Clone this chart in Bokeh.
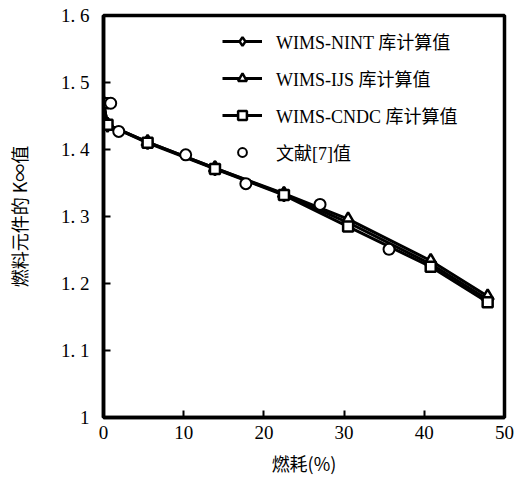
from bokeh.plotting import figure
from bokeh.models import Range1d, FixedTicker, CustomJSTickFormatter, Legend, LegendItem
from bokeh.embed import file_html
from bokeh.resources import INLINE

# burnup (%) at calculation points
burnup = [0, 0.5, 5.5, 13.9, 22.5, 30.5, 40.8, 47.9]
k_nint = [1.469, 1.437, 1.411, 1.372, 1.333, 1.291, 1.229, 1.176]
k_ijs = [1.469, 1.437, 1.411, 1.372, 1.334, 1.296, 1.234, 1.181]
k_cndc = [1.469, 1.437, 1.410, 1.371, 1.332, 1.285, 1.225, 1.172]

# reference values from literature [7]
ref_burnup = [0.9, 1.9, 10.25, 17.75, 27.0, 35.6]
ref_k = [1.469, 1.427, 1.392, 1.349, 1.318, 1.251]

x_ticks = [0, 10, 20, 30, 40, 50]
y_ticks = [1.0, 1.1, 1.2, 1.3, 1.4, 1.5, 1.6]
y_tick_labels = ["1", "1. 1", "1. 2", "1. 3", "1. 4", "1. 5", "1. 6"]

labels = ["WIMS-NINT 库计算值", "WIMS-IJS 库计算值", "WIMS-CNDC 库计算值", "文献[7]值"]

SERIF = "'Liberation Serif', 'Noto Sans CJK SC'"
CJK = "'Noto Sans CJK SC'"

p = figure(width=519, height=486, output_backend="svg", toolbar_location=None,
           x_range=Range1d(0, 50), y_range=Range1d(1.0, 1.6),
           min_border_left=103, min_border_right=15, min_border_top=15, min_border_bottom=69)

p.background_fill_color = "white"
p.border_fill_color = "white"
p.outline_line_color = "black"
p.outline_line_width = 3.5
p.grid.visible = False

lw = 3
r_nl = p.line(burnup, k_nint, line_color="black", line_width=lw)
r_il = p.line(burnup, k_ijs, line_color="black", line_width=lw)
r_cl = p.line(burnup, k_cndc, line_color="black", line_width=lw)
r_nm = p.scatter(burnup, k_nint, marker="diamond", size=14, fill_color="white", line_color="black", line_width=2.5)
r_im = p.scatter(burnup, k_ijs, marker="triangle", size=12, fill_color="white", line_color="black", line_width=2.5)
r_cm = p.scatter(burnup, k_cndc, marker="square", size=10, fill_color="white", line_color="black", line_width=2.5)
r_ref = p.scatter(ref_burnup, ref_k, marker="circle", size=11, fill_color="white", line_color="black", line_width=2)

# axes
for ax in (p.xaxis[0], p.yaxis[0]):
    ax.axis_line_width = 3.5
    ax.axis_line_color = "black"
    ax.major_tick_in = 7
    ax.major_tick_out = 0
    ax.major_tick_line_width = 2
    ax.major_tick_line_color = "black"
    ax.minor_tick_line_color = None
    ax.major_label_text_font = SERIF
    ax.major_label_text_font_size = "19px"
    ax.major_label_text_color = "black"
    ax.axis_label_text_font = CJK
    ax.axis_label_text_font_size = "18px"
    ax.axis_label_text_font_style = "normal"
    ax.axis_label_text_color = "black"

p.xaxis.ticker = FixedTicker(ticks=x_ticks)
p.yaxis.ticker = FixedTicker(ticks=y_ticks)
mapping = "{" + ",".join("'%.1f':'%s'" % (t, l) for t, l in zip(y_ticks, y_tick_labels)) + "}"
p.yaxis.formatter = CustomJSTickFormatter(code="const m=%s; const k=tick.toFixed(1); return (k in m) ? m[k] : k;" % mapping)
p.xaxis.major_label_standoff = 8
p.yaxis.major_label_standoff = 14
p.xaxis.axis_label = "燃耗(%)"
p.yaxis.axis_label = "燃料元件的 K∞值"
p.xaxis.axis_label_standoff = 8
p.yaxis.axis_label_standoff = 26

legend = Legend(items=[
    LegendItem(label=labels[0], renderers=[r_nl, r_nm]),
    LegendItem(label=labels[1], renderers=[r_il, r_im]),
    LegendItem(label=labels[2], renderers=[r_cl, r_cm]),
    LegendItem(label=labels[3], renderers=[r_ref]),
], location=(119, 252))
legend.border_line_color = None
legend.background_fill_alpha = 0
legend.label_text_font = SERIF
legend.label_text_font_size = "18px"
legend.label_text_color = "black"
legend.glyph_width = 40
legend.glyph_height = 22
legend.spacing = 11
legend.padding = 0
legend.margin = 0
legend.label_standoff = 14
legend.label_height = 22
p.add_layout(legend)

open("out.html", "w").write(file_html(p, INLINE))
